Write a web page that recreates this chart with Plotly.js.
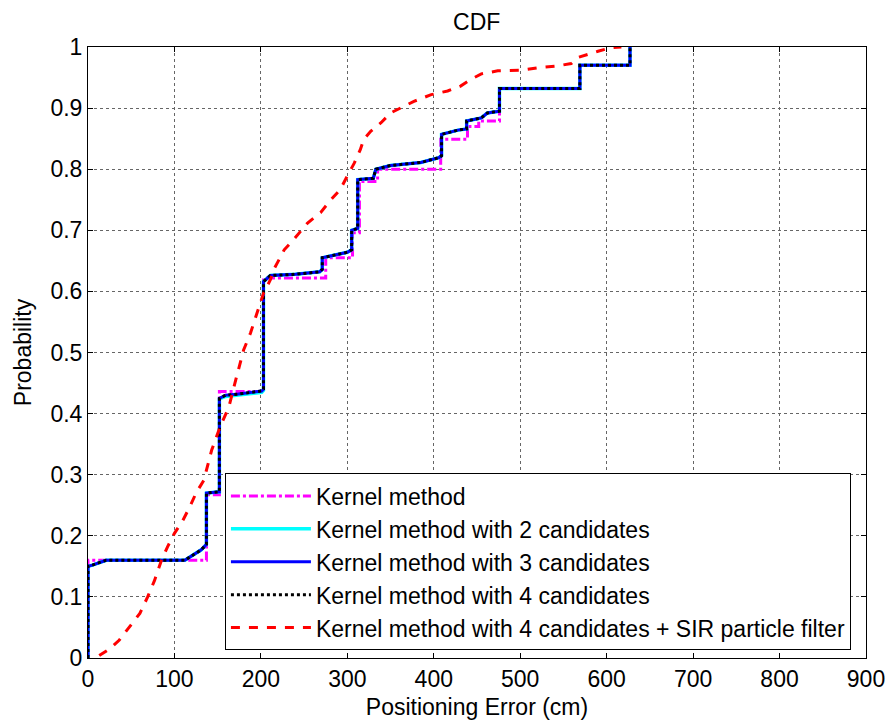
<!DOCTYPE html>
<html>
<head>
<meta charset="utf-8">
<script src="https://cdn.plot.ly/plotly-3.0.1.min.js"></script>
<style>html,body{margin:0;padding:0;background:#fff;}#chart{width:886px;height:722px;}</style>
</head>
<body>
<div id="chart"></div>
<script>
// Kernel method (dash-dot magenta)
const kernelX = [0, 0, 137, 137, 152, 152, 203, 203, 275, 275, 306, 306, 314, 314, 335, 335, 408, 408, 439, 439, 452, 452, 476, 476, 569, 569, 627, 627];
const kernelY = [0, 0.160, 0.160, 0.267, 0.267, 0.436, 0.436, 0.622, 0.622, 0.655, 0.655, 0.696, 0.696, 0.780, 0.780, 0.800, 0.800, 0.849, 0.849, 0.870, 0.870, 0.879, 0.879, 0.932, 0.932, 0.970, 0.970, 1.0];

// Kernel method with 2 candidates (cyan)
const k2X = [0, 0, 5, 21, 112, 131, 137, 137, 152, 152, 159, 174, 201, 203, 203, 211, 240, 268, 271, 271, 300, 305, 305, 312, 312, 330, 333, 350, 385, 406, 409, 409, 428, 438, 438, 455, 462, 476, 476, 569, 569, 627, 627];
const k2Y = [0, 0.150, 0.152, 0.160, 0.160, 0.177, 0.186, 0.270, 0.272, 0.424, 0.428, 0.430, 0.435, 0.438, 0.616, 0.626, 0.628, 0.632, 0.636, 0.655, 0.664, 0.668, 0.700, 0.703, 0.783, 0.785, 0.800, 0.806, 0.811, 0.819, 0.822, 0.857, 0.864, 0.866, 0.879, 0.884, 0.892, 0.895, 0.932, 0.932, 0.970, 0.970, 1.0];

// Kernel method with 3 candidates (blue)
const k3X = [0, 0, 5, 21, 112, 131, 137, 137, 152, 152, 159, 174, 201, 203, 203, 211, 240, 268, 271, 271, 300, 305, 305, 312, 312, 330, 333, 350, 385, 406, 409, 409, 428, 438, 438, 455, 462, 476, 476, 569, 569, 627, 627];
const k3Y = [0, 0.150, 0.152, 0.160, 0.160, 0.177, 0.186, 0.270, 0.272, 0.425, 0.430, 0.432, 0.437, 0.440, 0.616, 0.626, 0.628, 0.632, 0.636, 0.655, 0.664, 0.668, 0.700, 0.703, 0.783, 0.785, 0.800, 0.806, 0.811, 0.819, 0.822, 0.857, 0.864, 0.866, 0.879, 0.884, 0.892, 0.895, 0.932, 0.932, 0.970, 0.970, 1.0];

// Kernel method with 4 candidates (black dotted)
const k4X = [0, 0, 5, 21, 112, 131, 137, 137, 152, 152, 159, 174, 201, 203, 203, 211, 240, 268, 271, 271, 300, 305, 305, 312, 312, 330, 333, 350, 385, 406, 409, 409, 428, 438, 438, 455, 462, 476, 476, 569, 569, 627, 627];
const k4Y = [0, 0.150, 0.152, 0.160, 0.160, 0.177, 0.186, 0.270, 0.272, 0.425, 0.430, 0.432, 0.437, 0.440, 0.616, 0.626, 0.628, 0.632, 0.636, 0.655, 0.664, 0.668, 0.700, 0.703, 0.783, 0.785, 0.800, 0.806, 0.811, 0.819, 0.822, 0.857, 0.864, 0.866, 0.879, 0.884, 0.892, 0.895, 0.932, 0.932, 0.970, 0.970, 1.0];

// Kernel method with 4 candidates + SIR particle filter (red dashed)
const sirX = [13, 25, 36, 48, 60, 69, 77, 85, 92, 100, 110, 118, 125, 134, 143, 153, 163, 172, 180, 188, 196, 203, 211, 215, 227, 238, 254, 269, 281, 292, 300, 308, 315, 319, 327, 339, 350, 362, 377, 397, 416, 431, 443, 455, 474, 501, 520, 543, 559, 567, 578, 590, 605, 617];
const sirY = [0.004, 0.015, 0.029, 0.051, 0.073, 0.100, 0.127, 0.160, 0.182, 0.204, 0.226, 0.248, 0.270, 0.291, 0.340, 0.379, 0.411, 0.461, 0.504, 0.532, 0.565, 0.597, 0.619, 0.636, 0.668, 0.685, 0.712, 0.729, 0.750, 0.767, 0.789, 0.810, 0.832, 0.849, 0.862, 0.876, 0.892, 0.900, 0.911, 0.922, 0.928, 0.936, 0.947, 0.956, 0.961, 0.962, 0.966, 0.969, 0.973, 0.983, 0.988, 0.993, 0.999, 1.0];

const seriesNames = [
  "Kernel method",
  "Kernel method with 2 candidates",
  "Kernel method with 3 candidates",
  "Kernel method with 4 candidates",
  "Kernel method with 4 candidates + SIR particle filter"
];
const xTicks = [0, 100, 200, 300, 400, 500, 600, 700, 800, 900];
const yTicks = [0, 0.1, 0.2, 0.3, 0.4, 0.5, 0.6, 0.7, 0.8, 0.9, 1];

const FONT = "Liberation Sans, Arial, sans-serif";
const FS = 23;

const traces = [
  {x: kernelX, y: kernelY, name: seriesNames[0], mode: "lines", legendgroup: "a",
   line: {color: "#ff00ff", width: 3, dash: "dashdot"}},
  {x: k2X, y: k2Y, name: seriesNames[1], mode: "lines", legendgroup: "b",
   line: {color: "#00ffff", width: 3.5}},
  {x: k3X, y: k3Y, name: seriesNames[2], mode: "lines", legendgroup: "c",
   line: {color: "#0000ff", width: 3}},
  {x: k4X, y: k4Y, name: seriesNames[3], mode: "lines", legendgroup: "d",
   line: {color: "#000000", width: 3, dash: "dot"}},
  {x: sirX, y: sirY, name: seriesNames[4], mode: "lines", legendgroup: "e",
   line: {color: "#ff0000", width: 3, dash: "dash"}}
];

const axisCommon = {
  showline: true, linecolor: "#000", linewidth: 1, mirror: "ticks",
  ticks: "inside", ticklen: 5, tickcolor: "#000",
  showgrid: true, gridcolor: "#666", griddash: "dot", gridwidth: 1,
  zeroline: false,
  tickfont: {family: FONT, size: FS, color: "#000"}
};

const layout = {
  width: 886, height: 722,
  paper_bgcolor: "#fff", plot_bgcolor: "#fff",
  margin: {l: 88, r: 20, t: 47, b: 64},
  title: {text: "CDF", font: {family: FONT, size: FS, color: "#000"}, x: 0.538, xanchor: "center", y: 0.970, yanchor: "middle"},
  xaxis: Object.assign({}, axisCommon, {
    range: [0, 900], tickvals: xTicks, ticktext: xTicks.map(String),
    title: {text: "Positioning Error (cm)", font: {family: FONT, size: FS, color: "#000"}, standoff: 8}
  }),
  yaxis: Object.assign({}, axisCommon, {
    range: [0, 1], tickvals: yTicks, ticktext: yTicks.map(String),
    title: {text: "Probability", font: {family: FONT, size: FS, color: "#000"}, standoff: 12}
  }),
  showlegend: true,
  legend: {
    x: 0.176, y: 0.302, xanchor: "left", yanchor: "top",
    bgcolor: "#fff", bordercolor: "#000", borderwidth: 1,
    font: {family: FONT, size: FS, color: "#000"},
    itemwidth: 80, tracegroupgap: 0, traceorder: "grouped"
  }
};

Plotly.newPlot("chart", traces, layout, {displayModeBar: false, staticPlot: true});
</script>
</body>
</html>
